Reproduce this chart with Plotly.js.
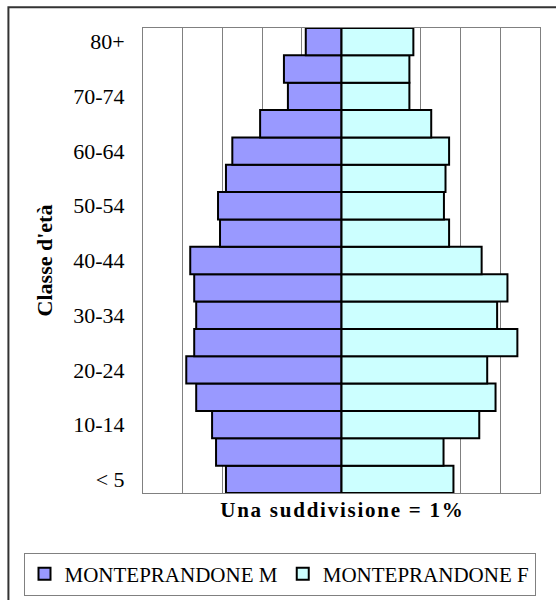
<!DOCTYPE html>
<html>
<head>
<meta charset="utf-8">
<script src="https://cdn.plot.ly/plotly-3.0.1.min.js"></script>
<style>html,body{margin:0;padding:0;background:#fff;}#chart{width:556px;height:600px;}</style>
</head>
<body>
<div id="chart"></div>
<script>
const ageClasses = ["< 5","5-9","10-14","15-19","20-24","25-29","30-34","35-39","40-44","45-49","50-54","55-59","60-64","65-69","70-74","75-79","80+"];
const maleValues = [2.91,3.16,3.26,3.66,3.91,3.71,3.66,3.71,3.81,3.06,3.11,2.91,2.75,2.05,1.35,1.45,0.90];
const femaleValues = [2.82,2.57,3.47,3.88,3.67,4.43,3.92,4.18,3.53,2.71,2.58,2.62,2.71,2.26,1.71,1.71,1.81];
const tickLabels = ["< 5","10-14","20-24","30-34","40-44","50-54","60-64","70-74","80+"];
const maleName = "MONTEPRANDONE M";
const femaleName = "MONTEPRANDONE F";
const xTitle = "Una suddivisione = 1%";

const serif = '"Liberation Serif", "Times New Roman", serif';
const spaced = s => s.split('').join('\u200A');

const traces = [
  {type:'bar', orientation:'h', name:maleName, y:ageClasses, x:maleValues.map(v=>-v),
   marker:{color:'#9999ff', line:{color:'#000', width:2}}},
  {type:'bar', orientation:'h', name:femaleName, y:ageClasses, x:femaleValues,
   marker:{color:'#ccffff', line:{color:'#000', width:2}}}
];

const layout = {
  width:556, height:600,
  margin:{l:143, r:16, t:28, b:107, autoexpand:false},
  paper_bgcolor:'#fff', plot_bgcolor:'#fff',
  font:{family:serif, color:'#000', size:17},
  barmode:'relative', bargap:0,
  showlegend:true,
  legend:{orientation:'h', x:-0.301, y:-0.128, xanchor:'left', yanchor:'top',
          bgcolor:'#fff', bordercolor:'#808080', borderwidth:1,
          font:{family:serif, size:21, color:'#000'}, traceorder:'normal'},
  xaxis:{range:[-5,5], dtick:1, tick0:0, showticklabels:false, ticks:'',
         showgrid:true, gridcolor:'#808080', gridwidth:1, zeroline:false,
         showline:true, linecolor:'#808080', linewidth:1, mirror:true, fixedrange:true,
         title:{text:'<b>' + spaced(xTitle) + '</b>', font:{family:serif, size:21}, standoff:9}},
  yaxis:{type:'category', categoryorder:'array', categoryarray:ageClasses,
         tickmode:'array', tickvals:tickLabels, ticktext:tickLabels,
         ticks:'', ticklen:0, ticklabelstandoff:13, showgrid:false, zeroline:false,
         showline:true, linecolor:'#808080', linewidth:1, mirror:true,
         tickfont:{family:serif, size:22}, fixedrange:true,
         title:{text:"<b>Classe d'età</b>", font:{family:serif, size:22}, standoff:14}},
  shapes:[
    {type:'rect', xref:'paper', yref:'paper', x0:-0.339, x1:1.1, y0:-0.4, y1:1.0445,
     line:{color:'#333', width:2}, fillcolor:'rgba(0,0,0,0)', layer:'below'}
  ]
};

Plotly.newPlot('chart', traces, layout, {displayModeBar:false, staticPlot:true});
</script>
</body>
</html>
